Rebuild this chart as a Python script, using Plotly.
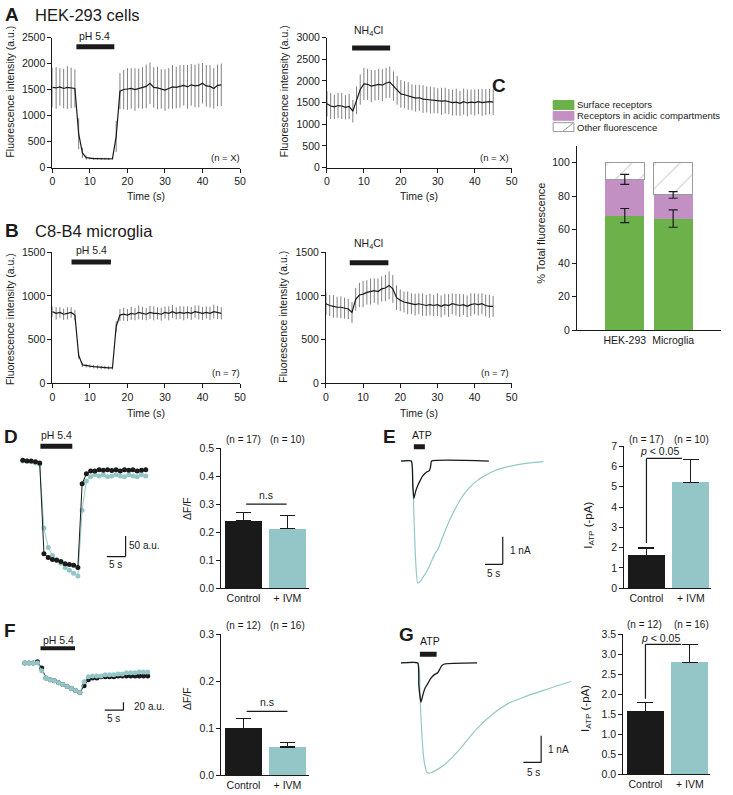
import plotly.graph_objects as go

W, H = 733, 795
FONT = "Arial, 'Liberation Sans', Helvetica, sans-serif"
INK = "#1a1a1a"
TEAL = "#94c6c8"
GREEN = "#6cb149"
PURPLE = "#c390c3"
SDGRAY = "#808080"

# ---------------- data ----------------
time_s = list(range(46))

hek_ph_mean = [1540, 1530, 1550, 1520, 1540, 1530, 1520, 650, 280, 190,
               175, 170, 170, 165, 170, 165, 170, 600, 1470,
               1500, 1510, 1520, 1500, 1520, 1530, 1560, 1620, 1540, 1530,
               1510, 1490, 1520, 1550, 1540, 1560, 1580, 1550, 1590, 1570,
               1580, 1620, 1570, 1560, 1520, 1580, 1590]
hek_ph_sd = [380, 400, 360, 380, 410, 390, 370, 300, 100, 40,
             20, 20, 20, 20, 20, 20, 20, 300, 350,
             380, 400, 390, 410, 380, 400, 420, 400, 390, 410,
             380, 400, 390, 420, 400, 410, 390, 420, 400, 410,
             420, 390, 400, 410, 390, 400, 410]

hek_nh4_mean = [1470, 1420, 1400, 1430, 1420, 1390, 1410, 1300, 1550, 1800,
                1930, 1920, 1880, 1900, 1920, 1900, 1950, 1970, 1880, 1780,
                1700, 1680, 1650, 1620, 1600, 1610, 1580, 1570, 1560, 1550,
                1540, 1530, 1540, 1520, 1500, 1510, 1480, 1520, 1490, 1510,
                1500, 1520, 1500, 1510, 1520, 1510]
hek_nh4_sd = [290, 300, 280, 290, 300, 280, 290, 260, 320,
              350, 370, 360, 370, 350, 360, 370, 350, 360,
              340, 330, 320, 310, 320, 300, 310, 300, 320, 300,
              310, 300, 290, 310, 300, 290, 300, 310, 290, 300,
              310, 290, 300, 290, 310, 300, 290, 300]

mg_ph_mean = [820, 800, 810, 790, 800, 810, 780, 320, 210,
              200, 195, 190, 185, 180, 180, 175, 175, 650, 780,
              790, 780, 800, 790, 810, 800, 790, 810, 800, 800,
              790, 810, 800, 820, 800, 810, 800, 810, 800, 820,
              810, 800, 810, 800, 820, 810, 800]
mg_ph_sd = [60, 70, 60, 65, 70, 60, 60, 40, 25,
            20, 20, 20, 20, 20, 20, 20, 20, 60, 70,
            75, 70, 75, 70, 80, 75, 70, 75, 80, 70,
            75, 70, 80, 75, 70, 75, 80, 70, 75, 70,
            80, 75, 70, 75, 80, 75, 70]

mg_nh4_mean = [910, 890, 880, 870, 870, 860, 850, 810, 960, 1010,
               1020, 1040, 1050, 1060, 1050, 1080, 1090, 1120, 1080, 980,
               950, 930, 920, 910, 900, 910, 900, 890, 900, 890,
               900, 880, 900, 890, 910, 900, 890, 900, 880, 900,
               910, 900, 910, 890, 880, 880]
mg_nh4_sd = [130, 120, 130, 120, 125, 120, 115, 120,
             130, 140, 150, 140, 150, 140, 150, 145, 150, 160, 160,
             140, 125, 120, 130, 120, 125, 120, 130, 120, 125,
             120, 130, 125, 120, 130, 120, 125, 130, 120, 125,
             130, 120, 125, 120, 125, 130, 120]

# Panel C
cells = ["HEK-293", "Microglia"]
surface_pct = [68.4, 66.6]
surface_sem = [4.2, 5.2]
acidic_pct = [21.6, 14.1]
acidic_sem = [3.0, 2.0]
other_pct = [10.0, 19.3]

# Panels D / F : pHluorin traces (a.u., relative to baseline)
frame_s = [round(i * 1.13, 2) for i in range(30)]
d_control = [2, 0, 0, -2, -5, -224, -233, -238, -240, -243, -248, -250, -252, -257,
             -55, -31, -24, -24, -21, -22, -21, -23, -21, -24, -21, -22, -21, -24, -22, -21]
d_ivm = [0, 0, -2, -5, -7, -162, -209, -228, -238, -247, -257, -264, -271, -278,
         -119, -48, -38, -33, -36, -33, -38, -36, -33, -36, -38, -33, -36, -38, -33, -36]
f_control = [0, 0, 0, 3, -13, -38, -43, -45, -50, -55, -60, -65, -70, -75,
             -58, -43, -38, -38, -35, -35, -35, -35, -33, -33, -33, -33, -33, -33, -33, -33]
f_ivm = [0, 0, 0, 0, -20, -38, -43, -45, -50, -55, -60, -65, -70, -75,
         -48, -35, -33, -33, -33, -30, -30, -30, -28, -28, -25, -25, -25, -23, -23, -23]

# Panels E / G : ATP currents (nA)
e_ivm_t = [0, 2.9, 3.3, 3.7, 4.1, 4.7, 5.5, 6.5, 7.5, 8.6, 9.7, 10.4, 11.4, 12.5, 13.7,
           15.0, 16.4, 17.8, 19.5, 21.4, 23.7, 26.1, 29.0, 32.5, 36.0, 40.0]
e_ivm_i = [0, 0, -0.7, -2.3, -3.6, -4.43, -4.35, -4.15, -3.93, -3.62, -3.32, -3.2, -2.85,
           -2.5, -2.13, -1.79, -1.46, -1.18, -0.93, -0.71, -0.52, -0.36, -0.24, -0.14,
           -0.07, -0.02]
e_ctl_t = [0, 2.9, 3.3, 3.6, 4.1, 4.7, 5.4, 6.1, 6.8, 7.5, 8.0, 8.3, 8.6, 24.7]
e_ctl_i = [0, 0, -0.9, -1.36, -1.1, -0.89, -0.7, -0.54, -0.44, -0.38, -0.35, -0.2, 0, 0]
g_ivm_t = [0, 4.7, 5.3, 5.9, 6.5, 7.3, 8.5, 9.8, 12.1, 14.4, 16.8, 19.1, 21.4, 26.0,
           30.6, 35.3, 39.9, 43.9, 47.8]
g_ivm_i = [0, 0, -1.2, -2.8, -3.7, -4.12, -4.13, -4.04, -3.84, -3.55, -3.2, -2.82, -2.46,
           -1.9, -1.49, -1.25, -1.04, -0.86, -0.70]
g_ctl_t = [0, 4.7, 5.0, 5.6, 6.1, 6.7, 7.5, 8.3, 9.4, 10.3, 10.8, 11.4, 12.2, 21.4]
g_ctl_i = [0, 0, -0.85, -1.48, -1.22, -0.96, -0.78, -0.59, -0.44, -0.37, -0.26, -0.11,
           -0.04, 0]

# Summary bars
groups = ["Control", "+ IVM"]
d_mean, d_sem, d_n = [0.24, 0.212], [0.029, 0.047], [17, 10]
e_mean, e_sem, e_n = [1.62, 5.22], [0.36, 1.13], [17, 10]
f_mean, f_sem, f_n = [0.100, 0.060], [0.020, 0.010], [12, 16]
g_mean, g_sem, g_n = [1.57, 2.80], [0.22, 0.45], [12, 16]

# ---------------- helpers ----------------
def xd(a, b):
    return [a / W, b / W]


def yd(top, bottom):
    return [1 - bottom / H, 1 - top / H]


def names(i):
    s = '' if i == 1 else str(i)
    return 'xaxis' + s, 'yaxis' + s, 'x' + s, 'y' + s


fig = go.Figure()
layout = dict(width=W, height=H, margin=dict(l=0, r=0, t=0, b=0),
              paper_bgcolor='white', plot_bgcolor='white', showlegend=False,
              barmode='stack', font=dict(family=FONT, size=10.5, color=INK))
shapes, annots = [], []

TICKFONT = dict(family=FONT, size=10.5, color=INK)
base = dict(showgrid=False, zeroline=False, showline=True, linecolor=INK, linewidth=1,
            ticks='outside', ticklen=4, tickwidth=1, tickcolor=INK,
            tickfont=TICKFONT, fixedrange=True)
hidden = dict(visible=False, showgrid=False, zeroline=False, fixedrange=True)


def set_axes(i, xdom, ydom, xcfg, ycfg):
    xa, ya, xr, yr = names(i)
    layout[xa] = dict(domain=xd(*xdom), anchor=yr, **xcfg)
    layout[ya] = dict(domain=yd(*ydom), anchor=xr, **ycfg)


def T(text, x, y, size=10, xa='center', ya='middle', angle=0, bold=False):
    if xa == 'left':
        x -= 2
    elif xa == 'right':
        x += 2
    annots.append(dict(text=("<b>%s</b>" % text) if bold else text, x=x / W, y=1 - y / H,
                       xref='paper', yref='paper', xanchor=xa, yanchor=ya,
                       showarrow=False, textangle=angle,
                       font=dict(size=size, family=FONT, color=INK)))


def seg(i, x0, y0, x1, y1, w=1.2):
    _, _, xr, yr = names(i)
    shapes.append(dict(type='line', xref=xr, yref=yr, x0=x0, y0=y0, x1=x1, y1=y1,
                       line=dict(color=INK, width=w)))


def timeseries(i, mean, sd):
    _, _, xr, yr = names(i)
    fig.add_trace(go.Scatter(x=time_s, y=mean, mode='markers',
                             marker=dict(size=1, color='rgba(0,0,0,0)'),
                             error_y=dict(type='data', array=sd, color=SDGRAY,
                                          thickness=1, width=0),
                             xaxis=xr, yaxis=yr, hoverinfo='skip'))
    fig.add_trace(go.Scatter(x=time_s, y=mean, mode='lines',
                             line=dict(color=INK, width=1.2), xaxis=xr, yaxis=yr))


def summary(i, mean, sem, capw):
    _, _, xr, yr = names(i)
    fig.add_trace(go.Bar(x=groups, y=mean, width=0.83,
                         marker=dict(color=[INK, TEAL], line=dict(width=0)),
                         error_y=dict(type='data', symmetric=False, array=sem,
                                      arrayminus=[0, 0], color=INK, thickness=1.2,
                                      width=capw),
                         xaxis=xr, yaxis=yr))


# ---------------- A / B time courses ----------------
ts_x = {**base, 'range': [0, 50], 'tickvals': [0, 10, 20, 30, 40, 50]}
set_axes(1, (50, 240), (32, 164), ts_x,
         {**base, 'range': [0, 2500], 'tickvals': [0, 500, 1000, 1500, 2000, 2500]})
set_axes(2, (328, 515), (32, 164), ts_x,
         {**base, 'range': [0, 3000], 'tickvals': [0, 500, 1000, 1500, 2000, 2500, 3000]})
set_axes(3, (50, 240), (250, 383), ts_x,
         {**base, 'range': [0, 1500], 'tickvals': [0, 500, 1000, 1500]})
set_axes(4, (327, 515), (250, 383), ts_x,
         {**base, 'range': [0, 1500], 'tickvals': [0, 500, 1000, 1500]})

timeseries(1, hek_ph_mean, hek_ph_sd)
timeseries(2, hek_nh4_mean, hek_nh4_sd)
timeseries(3, mg_ph_mean, mg_ph_sd)
timeseries(4, mg_nh4_mean, mg_nh4_sd)

seg(1, 6.4, 2324, 16.5, 2324, 5)
seg(2, 6.8, 2757, 17.1, 2757, 5)
seg(3, 5.1, 1389, 15.6, 1389, 5)
seg(4, 6.4, 1380, 16.8, 1380, 5)

T("A", 2, 9, 19, 'left', bold=True)
T("HEK-293 cells", 32, 9, 16.5, 'left')
T("B", 2, 228, 19, 'left', bold=True)
T("C8-B4 microglia", 32, 228, 16.5, 'left')
T("pH 5.4", 93, 30, 10.5)
T("NH<sub>4</sub>Cl", 370, 25, 10.5)
T("pH 5.4", 90, 248, 10.5)
T("NH<sub>4</sub>Cl", 370, 242, 10.5)
T("(n = X)", 240, 154, 9.5, 'right')
T("(n = X)", 512, 154, 9.5, 'right')
T("(n = 7)", 240, 372, 9.5, 'right')
T("(n = 7)", 512, 372, 9.5, 'right')
for yy, xc in ((193, 145), (193, 421), (413, 145), (413, 421)):
    T("Time (s)", xc, yy, 10.5)
for xx, yc in ((7, 87), (284, 87), (7, 318), (284, 316)):
    T("Fluorescence intensity (a.u.)", xx, yc, 10.5, angle=-90)

# ---------------- C stacked bars ----------------
set_axes(5, (581, 727), (142, 329),
         {**base, 'type': 'category', 'range': [-0.99, 1.99], 'ticks': ''},
         {**base, 'range': [0, 110], 'tickvals': [0, 20, 40, 60, 80, 100]})
fig.add_trace(go.Bar(x=cells, y=surface_pct, width=0.8,
                     marker=dict(color=GREEN, line=dict(width=0)), xaxis='x5', yaxis='y5'))
fig.add_trace(go.Bar(x=cells, y=acidic_pct, width=0.8,
                     marker=dict(color=PURPLE, line=dict(width=0)), xaxis='x5', yaxis='y5'))
fig.add_trace(go.Bar(x=cells, y=other_pct, width=0.8,
                     marker=dict(color='white', line=dict(color='#9a9a9a', width=1),
                                 pattern=dict(shape='/', fgcolor='#9a9a9a', bgcolor='white',
                                              size=17, solidity=0.06)),
                     xaxis='x5', yaxis='y5'))
acid_top = [s + a for s, a in zip(surface_pct, acidic_pct)]
for ys, es in ((surface_pct, surface_sem), (acid_top, acidic_sem)):
    fig.add_trace(go.Scatter(x=cells, y=ys, mode='markers',
                             marker=dict(size=1, color='rgba(0,0,0,0)'),
                             error_y=dict(type='data', array=es, color=INK, thickness=1.2,
                                          width=4.5),
                             xaxis='x5', yaxis='y5'))
T("C", 495, 81, 19, 'left', bold=True)
T("% Total fluorescence", 544, 231, 11, angle=-90)
legend_rows = [("Surface receptors", GREEN, 100.5), ("Receptors in acidic compartments", PURPLE, 111.5),
               ("Other fluorescence", 'white', 123)]
for label, col, yc in legend_rows:
    shapes.append(dict(type='rect', xref='paper', yref='paper', x0=557 / W, x1=578 / W,
                       y0=1 - (yc + 4.5) / H, y1=1 - (yc - 4.5) / H, fillcolor=col,
                       line=dict(color='#9a9a9a' if col == 'white' else col, width=1)))
    T(label, 581, yc, 9.5, 'left')
shapes.append(dict(type='line', xref='paper', yref='paper', x0=567 / W, y0=1 - 127 / H,
                   x1=577 / W, y1=1 - 119 / H, line=dict(color='#9a9a9a', width=1)))

# ---------------- D / F pHluorin traces ----------------
set_axes(6, (10, 160), (430, 600), {**hidden, 'range': [-2.632, 36.842]},
         {**hidden, 'range': [-328.44, 76.16]})
set_axes(10, (10, 160), (630, 730), {**hidden, 'range': [-3.158, 36.316]},
         {**hidden, 'range': [-157.5, 92.5]})
fig.add_trace(go.Scatter(x=frame_s, y=d_ivm, mode='lines+markers',
                         line=dict(color=TEAL, width=1), marker=dict(size=5, color=TEAL),
                         xaxis='x6', yaxis='y6'))
fig.add_trace(go.Scatter(x=frame_s, y=d_control, mode='lines+markers',
                         line=dict(color=INK, width=1), marker=dict(size=5, color=INK),
                         xaxis='x6', yaxis='y6'))
fig.add_trace(go.Scatter(x=frame_s, y=f_control, mode='lines+markers',
                         line=dict(color=INK, width=1), marker=dict(size=5, color=INK),
                         xaxis='x10', yaxis='y10'))
fig.add_trace(go.Scatter(x=frame_s, y=f_ivm, mode='lines+markers',
                         line=dict(color=TEAL, width=1), marker=dict(size=5, color=TEAL),
                         xaxis='x10', yaxis='y10'))
seg(6, 4.7, 35.7, 13.2, 35.7, 5)
seg(6, 22.4, -231, 27.4, -231)
seg(6, 27.4, -231, 27.4, -181)
seg(10, 4.2, 37.5, 13.4, 37.5, 4)
seg(10, 21.3, -120, 26.3, -120)
seg(10, 26.3, -120, 26.3, -100)
T("D", 1, 437, 19, 'left', bold=True)
T("pH 5.4", 54, 436, 10.5)
T("50 a.u.", 128, 548, 10, 'left')
T("5 s", 114, 567, 10)
T("F", 1, 634, 19, 'left', bold=True)
T("pH 5.4", 56, 644, 10.5)
T("20 a.u.", 133, 711, 10, 'left')
T("5 s", 112, 723, 10)

# ---------------- E / G current traces ----------------
set_axes(8, (395, 560), (430, 600), {**hidden, 'range': [-2.222, 43.611]},
         {**hidden, 'range': [-4.9286, 1.1429]})
set_axes(12, (395, 590), (630, 790), {**hidden, 'range': [-2.222, 51.944]},
         {**hidden, 'range': [-4.5556, 1.3704]})
fig.add_trace(go.Scatter(x=e_ivm_t, y=e_ivm_i, mode='lines',
                         line=dict(color=TEAL, width=1.2, shape='spline', smoothing=0.6),
                         xaxis='x8', yaxis='y8'))
fig.add_trace(go.Scatter(x=e_ctl_t, y=e_ctl_i, mode='lines',
                         line=dict(color=INK, width=1.3, shape='spline', smoothing=0.4),
                         xaxis='x8', yaxis='y8'))
fig.add_trace(go.Scatter(x=g_ivm_t, y=g_ivm_i, mode='lines',
                         line=dict(color=TEAL, width=1.2, shape='spline', smoothing=0.6),
                         xaxis='x12', yaxis='y12'))
fig.add_trace(go.Scatter(x=g_ctl_t, y=g_ctl_i, mode='lines',
                         line=dict(color=INK, width=1.3, shape='spline', smoothing=0.4),
                         xaxis='x12', yaxis='y12'))
seg(8, 3.6, 0.52, 6.7, 0.52, 5)
seg(8, 23.6, -3.75, 28.6, -3.75)
seg(8, 28.6, -3.75, 28.6, -2.75)
seg(12, 5.3, 0.33, 10.0, 0.33, 5)
seg(12, 34.4, -3.74, 39.4, -3.74)
seg(12, 39.4, -3.74, 39.4, -2.74)
T("E", 385, 437, 19, 'left', bold=True)
T("ATP", 424, 436, 10.5)
T("1 nA", 513, 553, 10, 'left')
T("5 s", 497, 576, 10)
T("G", 401, 638, 19, 'left', bold=True)
T("ATP", 432, 645, 10.5)
T("1 nA", 552, 755, 10, 'left')
T("5 s", 537, 778, 10)

# ---------------- summary bar charts ----------------
bar_x = {**base, 'type': 'category', 'ticks': ''}
set_axes(7, (221, 310), (449, 591), {**bar_x, 'range': [-0.506, 1.494]},
         {**base, 'range': [0, 0.5], 'tickvals': [0, 0.1, 0.2, 0.3, 0.4, 0.5],
          'tickformat': '.1f'})
set_axes(9, (629, 717), (447, 591), {**bar_x, 'range': [-0.5, 1.46]},
         {**base, 'range': [0, 7], 'tickvals': [0, 1, 2, 3, 4, 5, 6, 7]})
set_axes(11, (221, 310), (638, 781), {**bar_x, 'range': [-0.506, 1.494]},
         {**base, 'range': [0, 0.3], 'tickvals': [0, 0.1, 0.2, 0.3], 'tickformat': '.1f'})
set_axes(13, (628, 716), (638, 780), {**bar_x, 'range': [-0.5, 1.46]},
         {**base, 'range': [0, 3.5], 'tickvals': [0, 0.5, 1, 1.5, 2, 2.5, 3, 3.5],
          'tickformat': '.1f'})
summary(7, d_mean, d_sem, 7.5)
summary(9, e_mean, e_sem, 8)
summary(11, f_mean, f_sem, 7.5)
summary(13, g_mean, g_sem, 8)

# significance marks
seg(7, 0.06, 0.30, 0.98, 0.30)
seg(11, 0.07, 0.136, 1.0, 0.136)
seg(9, 0, 2.22, 0, 6.4)
seg(9, 0, 6.4, 0.8, 6.4)
seg(13, 0, 1.89, 0, 3.25)
seg(13, 0, 3.25, 0.8, 3.25)
T("n.s", 266, 497, 10.5)
T("n.s", 267, 707, 10.5)
T("<i>p</i> < 0.05", 665, 452, 10.5)
T("<i>p</i> < 0.05", 666, 642, 10.5)

for nvals, xs, yy in ((d_n, (243, 288), 440), (e_n, (651, 697), 440),
                      (f_n, (243, 288), 629), (g_n, (649, 697), 628)):
    for nv, xc in zip(nvals, xs):
        T("(n = %d)" % nv, xc, yy, 10)

T("ΔF/F", 187, 510, 10.5, angle=-90)
T("ΔF/F", 187, 703, 10.5, angle=-90)
T("I<sub>ATP</sub> (-pA)", 593, 527, 11.5, angle=-90)
T("I<sub>ATP</sub> (-pA)", 590, 713, 11.5, angle=-90)

layout['shapes'] = shapes
layout['annotations'] = annots
fig.update_layout(**layout)
fig.write_html("out.html", config={'displayModeBar': False},
               post_script="document.body.style.margin='0';document.body.style.padding='0';")
